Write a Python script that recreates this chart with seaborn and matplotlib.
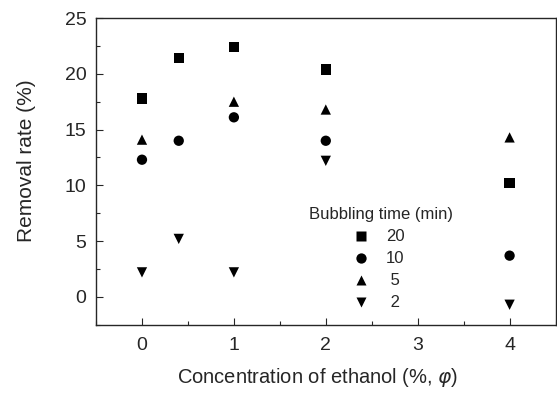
import numpy as np
import pandas as pd
import matplotlib
matplotlib.use("Agg")
import matplotlib.pyplot as plt
import seaborn as sns

# Concentration of ethanol (%, phi)
conc = [0, 0.4, 1, 2, 4]
# Removal rate (%) per bubbling time (min)
rate_20 = [17.8, 21.4, 22.4, 20.4, 10.2]
rate_10 = [12.3, 14.0, 16.1, 14.0, 3.7]
rate_5 = [14.1, np.nan, 17.5, 16.8, 14.3]
rate_2 = [2.2, 5.2, 2.2, 12.2, -0.7]
times = ["20", "10", "5", "2"]

df = pd.DataFrame({
    "conc": conc * 4,
    "rate": rate_20 + rate_10 + rate_5 + rate_2,
    "time": [t for t in times for _ in conc],
}).dropna()

sns.set_style("ticks")
plt.rcParams["font.family"] = ["Liberation Sans", "DejaVu Sans"]
plt.rcParams["xtick.direction"] = "in"
plt.rcParams["ytick.direction"] = "in"

fig = plt.figure(figsize=(5.57, 4.01), dpi=100)
ax = fig.add_axes([0.1724, 0.19, 0.825, 0.765])

sns.scatterplot(data=df, x="conc", y="rate", style="time", style_order=times,
                markers={"20": "s", "10": "o", "5": "^", "2": "v"},
                color="black", s=55, edgecolor="none", ax=ax)

ax.set_xlim(-0.5, 4.5)
ax.set_ylim(-2.5, 25)
ax.set_xticks([0, 1, 2, 3, 4])
ax.set_xticks(np.arange(-0.5, 4.6, 0.5), minor=True)
ax.set_yticks([0, 5, 10, 15, 20, 25])
ax.set_yticks(np.arange(-2.5, 25.1, 2.5), minor=True)
ax.tick_params(which="major", length=5, labelsize=14, width=0.8, pad=7)
ax.tick_params(axis="x", which="major", pad=9)
ax.tick_params(which="minor", length=3, width=0.8)
for sp in ax.spines.values():
    sp.set_linewidth(1.0)

ax.set_xlabel(r"Concentration of ethanol (%, $\varphi$)", fontsize=14.5)
ax.set_ylabel("Removal rate (%)", fontsize=15)
ax.xaxis.set_label_coords(0.482, -0.135)
ax.yaxis.set_label_coords(-0.13, 0.535)

# leading space keeps single digits centred under the two-digit labels
handles, labels = ax.get_legend_handles_labels()
labels = [l if len(l) > 1 else " " + l for l in labels]
ax.legend(handles, labels, title="Bubbling time (min)", frameon=False,
          loc="upper center", bbox_to_anchor=(0.62, 0.41), fontsize=12,
          title_fontsize=12, handlelength=0.4, handletextpad=1.3,
          labelspacing=0.42, borderpad=0)

plt.savefig("out.png")
